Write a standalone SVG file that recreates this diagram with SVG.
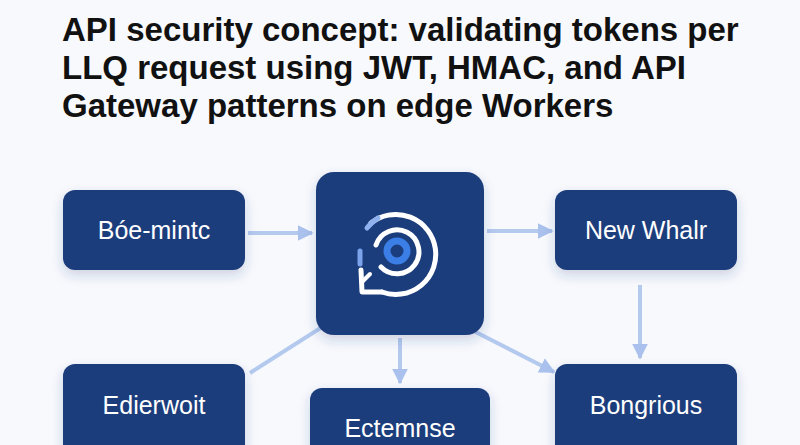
<svg xmlns="http://www.w3.org/2000/svg" width="800" height="445" viewBox="0 0 800 445">
<defs>
<filter id="sh" x="-20%" y="-20%" width="140%" height="150%"><feDropShadow dx="0" dy="5" stdDeviation="6" flood-color="#1b3a78" flood-opacity="0.2"/></filter>
<marker id="ah" viewBox="0 0 10 10" refX="9" refY="5" markerWidth="4" markerHeight="4" orient="auto"><path d="M0,0L10,5L0,10z" fill="#a9c1ec"/></marker>
</defs>
<style>
.box{fill:#1d3d7c;filter:url(#sh)}
.lbl{font-family:"Liberation Sans",Arial,sans-serif;font-size:25px;fill:#fff;text-anchor:middle}
.t{font-family:"Liberation Sans",Arial,sans-serif;font-size:33px;font-weight:bold;fill:#111}
.c{stroke:#b4c9ee;stroke-width:4;fill:none}
</style>
<rect width="800" height="445" fill="#f7f9fd"/>
<text class="t" x="62" y="41">API security concept: validating tokens per</text>
<text class="t" x="62" y="79">LLQ request using JWT, HMAC, and API</text>
<text class="t" x="62" y="117">Gateway patterns on edge Workers</text>
<g id="connectors">
<line class="c" x1="248" y1="233" x2="312" y2="233" marker-end="url(#ah)"/>
<line class="c" x1="487" y1="231" x2="552" y2="231" marker-end="url(#ah)"/>
<line class="c" x1="640" y1="285" x2="640" y2="358" marker-end="url(#ah)"/>
<line class="c" x1="400" y1="338" x2="400" y2="383" marker-end="url(#ah)"/>
<line class="c" x1="456" y1="322" x2="554" y2="372" marker-end="url(#ah)"/>
<line class="c" x1="330" y1="322" x2="250" y2="373"/>
</g>
<g id="n1"><rect class="box" x="63" y="190" width="182" height="80" rx="12"/><text class="lbl" x="154" y="239">Bóe-mintc</text></g>
<g id="n2"><rect class="box" x="555" y="190" width="182" height="80" rx="12"/><text class="lbl" x="646" y="239">New Whalr</text></g>
<g id="n3"><rect class="box" x="63" y="364" width="182" height="95" rx="12"/><text class="lbl" x="154" y="414">Edierwoit</text></g>
<g id="n4"><rect class="box" x="310" y="388" width="180" height="80" rx="12"/><text class="lbl" x="400" y="437">Ectemnse</text></g>
<g id="n5"><rect class="box" x="555" y="364" width="182" height="95" rx="12"/><text class="lbl" x="646" y="414">Bongrious</text></g>
<g id="center">
<rect class="box" x="316" y="172" width="168" height="163" rx="18"/>
<path d="M371,223 A40,40 0 1 1 382,292" stroke="#fff" stroke-width="5" fill="none" stroke-linecap="round"/>
<path d="M367,228 A40,40 0 0 1 378,218" stroke="#8fb1ee" stroke-width="5" fill="none" stroke-linecap="round"/>
<path d="M376,245 A22,22 0 1 1 381,267" stroke="#fff" stroke-width="5" fill="none" stroke-linecap="round"/>
<circle cx="397" cy="251" r="10" fill="none" stroke="#3b7fe6" stroke-width="7"/>
<path d="M361,270 L362,292 L382,292" stroke="#fff" stroke-width="5" fill="none" stroke-linejoin="round" stroke-linecap="round"/>
<path d="M362,282 L370,274" stroke="#fff" stroke-width="4" fill="none" stroke-linecap="round"/>
<path d="M360,251 L360,264" stroke="#7aa3ec" stroke-width="5" fill="none" stroke-linecap="round"/>
</g>
</svg>
